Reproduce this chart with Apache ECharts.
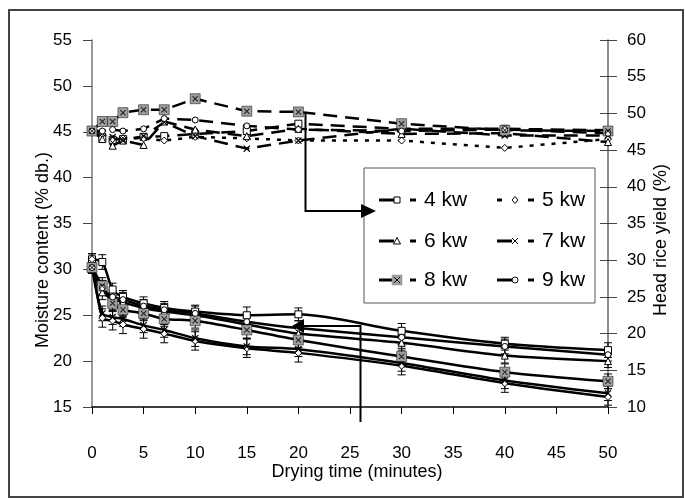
<!DOCTYPE html>
<html><head><meta charset="utf-8">
<script src="https://cdn.jsdelivr.net/npm/echarts@6/dist/echarts.min.js"></script>
<style>html,body{margin:0;padding:0;background:#fff}#c{width:685px;height:498px}</style>
</head><body><div id="c"></div>
<script>
// ---- data ----
const times = [0, 1, 2, 3, 5, 7, 10, 15, 20, 30, 40, 50];
const seriesNames = ['4 kw', '5 kw', '6 kw', '7 kw', '8 kw', '9 kw'];

// Moisture content (% db.) - left axis
const moisture4 = [31.1, 30.8, 27.8, 27.0, 26.3, 25.8, 25.4, 25.0, 25.1, 23.3, 21.9, 21.2];
const moisture5 = [31.1, 24.7, 24.4, 24.0, 23.5, 23.0, 22.2, 21.4, 20.9, 19.5, 17.6, 16.1];
const moisture6 = [30.2, 27.5, 26.8, 26.4, 25.8, 25.4, 25.0, 24.0, 23.0, 22.0, 20.6, 20.0];
const moisture7 = [30.2, 25.2, 24.8, 24.6, 23.9, 23.4, 22.5, 21.6, 21.3, 19.8, 17.9, 16.5];
const moisture8 = [30.2, 28.2, 26.3, 25.6, 25.2, 24.6, 24.4, 23.4, 22.3, 20.5, 18.8, 17.8];
const moisture9 = [30.2, 28.0, 27.0, 26.7, 26.0, 25.6, 25.2, 24.3, 23.6, 22.6, 21.6, 20.7];

// Error bar half-lengths (% db.)
const err4 = [0.6, 0.8, 0.7, 0.7, 0.7, 0.7, 0.7, 0.9, 0.7, 0.8, 0.7, 0.8];
const err5 = [0.6, 1.0, 1.0, 1.0, 1.0, 1.0, 1.0, 1.0, 1.0, 1.0, 1.0, 0.9];
const err6 = [0.6, 0.8, 0.7, 0.7, 0.7, 0.7, 0.7, 0.8, 0.8, 0.8, 0.8, 0.7];
const err7 = [0.6, 0.8, 0.8, 0.8, 0.8, 0.8, 0.9, 0.9, 0.8, 0.9, 0.9, 0.8];
const err8 = [0.6, 0.9, 0.8, 0.8, 0.8, 0.8, 0.8, 0.9, 0.8, 0.9, 0.9, 0.8];
const err9 = [0.6, 0.8, 0.7, 0.8, 0.7, 0.7, 0.8, 0.8, 0.8, 0.8, 0.8, 0.7];

// Head rice yield (%) - right axis
const yield4 = [47.6, 46.6, 46.4, 46.5, 46.8, 46.9, 47.2, 47.6, 48.6, 47.9, 47.9, 47.7];
const yield5 = [47.6, 47.2, 46.5, 46.6, 46.6, 46.3, 46.8, 46.6, 46.3, 46.3, 45.3, 46.5];
const yield6 = [47.6, 46.5, 45.6, 46.3, 45.7, 48.9, 47.8, 46.9, 47.9, 47.2, 47.3, 46.1];
const yield7 = [47.6, 47.3, 46.8, 46.3, 46.9, 48.8, 46.9, 45.2, 46.3, 47.9, 47.0, 47.0];
const yield8 = [47.6, 48.9, 48.9, 50.1, 50.5, 50.5, 52.0, 50.3, 50.2, 48.6, 47.7, 47.6];
const yield9 = [47.6, 47.6, 47.8, 47.6, 47.9, 49.3, 49.1, 48.3, 47.8, 47.6, 47.8, 47.3];

const xTickLabels = ['0','5','10','15','20','25','30','35','40','45','50'];

// ---- build ----
const moisture = [moisture4, moisture5, moisture6, moisture7, moisture8, moisture9];
const errs = [err4, err5, err6, err7, err8, err9];
const yields = [yield4, yield5, yield6, yield7, yield8, yield9];

const XPATH = 'path://M0,1.2L1.2,0L5,3.8L8.8,0L10,1.2L6.2,5L10,8.8L8.8,10L5,6.2L1.2,10L0,8.8L3.8,5Z';
const markerDefs = [
  {symbol: 'rect', size: 7, fill: '#fff', border: 1},
  {symbol: 'diamond', size: 7, fill: '#fff', border: 1},
  {symbol: 'triangle', size: 7, fill: '#fff', border: 1},
  {symbol: XPATH, size: 7, fill: '#000', border: 0},
  {symbol: 'rect', size: 10, fill: '#a0a0a0', border: 0.5},
  {symbol: 'circle', size: 6, fill: '#fff', border: 1}
];

const pairs = arr => times.map((t, i) => [t, arr[i]]);
const series = [];
const FONT = '"Liberation Sans", Arial, sans-serif';

seriesNames.forEach((name, k) => {
  const m = markerDefs[k];
  // error bars
  series.push({
    type: 'custom', yAxisIndex: 0, silent: true, z: 2,
    data: times.map((t, i) => [t, moisture[k][i], errs[k][i]]),
    renderItem: (params, api) => {
      const t = api.value(0), v = api.value(1), e = api.value(2);
      const top = api.coord([t, v + e]);
      const bot = api.coord([t, v - e]);
      const s = {stroke: '#000', lineWidth: 1};
      return {type: 'group', children: [
        {type: 'line', shape: {x1: top[0], y1: top[1], x2: bot[0], y2: bot[1]}, style: s},
        {type: 'line', shape: {x1: top[0] - 4, y1: top[1], x2: top[0] + 4, y2: top[1]}, style: s},
        {type: 'line', shape: {x1: bot[0] - 4, y1: bot[1], x2: bot[0] + 4, y2: bot[1]}, style: s}
      ]};
    }
  });
  // moisture (solid)
  series.push({
    name: name, type: 'line', yAxisIndex: 0, z: 3,
    data: pairs(moisture[k]), smooth: 0.25,
    symbol: m.symbol, symbolSize: m.size, showAllSymbol: true,
    lineStyle: {color: '#000', width: 2.5},
    itemStyle: {color: m.fill, borderColor: '#000', borderWidth: m.border}
  });
  // yield (dashed)
  series.push({
    name: name + ' yield', type: 'line', yAxisIndex: 1, z: 3,
    data: pairs(yields[k]),
    symbol: m.symbol, symbolSize: m.size, showAllSymbol: true,
    lineStyle: {color: '#000', width: 2.5, type: k === 1 ? [4, 7] : [14, 8]},
    itemStyle: {color: m.fill, borderColor: '#000', borderWidth: m.border}
  });
  if (k === 4) {
    // X overlay on gray squares
    [[0, moisture[k]], [1, yields[k]]].forEach(([ax, arr]) => {
      series.push({
        type: 'scatter', yAxisIndex: ax, z: 4, silent: true,
        data: pairs(arr), symbol: XPATH, symbolSize: 6,
        itemStyle: {color: '#000'}
      });
    });
  }
});

// ---- legend & annotations (graphic) ----
const graphic = [];
graphic.push({type: 'rect', shape: {x: 9, y: 10, width: 674, height: 487},
  style: {fill: 'none', stroke: '#444', lineWidth: 2}, z: 0});
graphic.push({type: 'rect', shape: {x: 364, y: 168, width: 231, height: 135},
  style: {fill: '#fff', stroke: '#555', lineWidth: 1}, z: 10});
const rowsY = [200, 241, 280];
const colsX = [379, 497];
seriesNames.forEach((name, k) => {
  const cx = colsX[k % 2], cy = rowsY[Math.floor(k / 2)];
  const lineStyle = {stroke: '#000', lineWidth: 3};
  if (k === 1) {
    graphic.push({type: 'line', shape: {x1: cx, y1: cy, x2: cx + 5, y2: cy}, style: lineStyle, z: 11});
  } else {
    graphic.push({type: 'line', shape: {x1: cx, y1: cy, x2: cx + 15, y2: cy}, style: lineStyle, z: 11});
  }
  graphic.push({type: 'line', shape: {x1: cx + 31, y1: cy, x2: cx + 37, y2: cy}, style: lineStyle, z: 11});
  const mx = cx + 18;
  const ms = {fill: '#fff', stroke: '#000', lineWidth: 1};
  if (k === 0) graphic.push({type: 'rect', shape: {x: mx - 3, y: cy - 3, width: 6, height: 6}, style: ms, z: 12});
  if (k === 1) graphic.push({type: 'polygon', shape: {points: [[mx, cy - 3.5], [mx + 3, cy], [mx, cy + 3.5], [mx - 3, cy]]}, style: ms, z: 12});
  if (k === 2) graphic.push({type: 'polygon', shape: {points: [[mx, cy - 3.5], [mx + 3.5, cy + 3], [mx - 3.5, cy + 3]]}, style: ms, z: 12});
  if (k === 3 || k === 4) {
    if (k === 4) graphic.push({type: 'rect', shape: {x: mx - 5, y: cy - 5, width: 10, height: 10}, style: {fill: '#a0a0a0', stroke: '#888', lineWidth: 0.5}, z: 12});
    graphic.push({type: 'line', shape: {x1: mx - 3, y1: cy - 3, x2: mx + 3, y2: cy + 3}, style: {stroke: '#000', lineWidth: 1}, z: 13});
    graphic.push({type: 'line', shape: {x1: mx + 3, y1: cy - 3, x2: mx - 3, y2: cy + 3}, style: {stroke: '#000', lineWidth: 1}, z: 13});
  }
  if (k === 5) graphic.push({type: 'circle', shape: {cx: mx, cy: cy, r: 3}, style: ms, z: 12});
  graphic.push({type: 'text', x: cx + 45, y: cy, z: 12,
    style: {text: name, font: '21px ' + FONT, fill: '#000', textAlign: 'left', textVerticalAlign: 'middle'}});
});
// arrow to legend
graphic.push({type: 'polyline', shape: {points: [[305.5, 112], [305.5, 211], [362, 211]]},
  style: {stroke: '#000', lineWidth: 2, fill: 'none'}, z: 14});
graphic.push({type: 'polygon', shape: {points: [[361, 204], [376, 211], [361, 218]]}, style: {fill: '#000'}, z: 14});
// arrow to moisture
graphic.push({type: 'polyline', shape: {points: [[360.5, 422], [360.5, 326], [302, 326]]},
  style: {stroke: '#000', lineWidth: 2, fill: 'none'}, z: 14});
graphic.push({type: 'polygon', shape: {points: [[304, 319], [292, 326], [304, 333]]}, style: {fill: '#000'}, z: 14});
// axis names
graphic.push({type: 'text', x: 43, y: 250, rotation: Math.PI / 2, z: 5,
  style: {text: 'Moisture content (% db.)', font: '18px ' + FONT, fill: '#000', textAlign: 'center', textVerticalAlign: 'middle'}});
graphic.push({type: 'text', x: 661, y: 240, rotation: Math.PI / 2, z: 5,
  style: {text: 'Head rice yield (%)', font: '18px ' + FONT, fill: '#000', textAlign: 'center', textVerticalAlign: 'middle'}});
graphic.push({type: 'text', x: 357, y: 472, z: 5,
  style: {text: 'Drying time (minutes)', font: '18px ' + FONT, fill: '#000', textAlign: 'center', textVerticalAlign: 'middle'}});

const chart = echarts.init(document.getElementById('c'), null, {renderer: 'canvas'});
chart.setOption({
  animation: false,
  backgroundColor: '#fff',
  grid: {left: 92, right: 77, top: 40, bottom: 91, containLabel: false},
  xAxis: {
    type: 'value', min: 0, max: 50, interval: 5,
    axisLine: {lineStyle: {color: '#000', width: 1.5}},
    axisTick: {length: 7, lineStyle: {color: '#000', width: 1}},
    axisLabel: {margin: 38, fontSize: 17, fontFamily: FONT, color: '#000',
      formatter: v => xTickLabels[Math.round(v / 5)]},
    splitLine: {show: false}
  },
  yAxis: [
    {type: 'value', position: 'left', min: 15, max: 55, interval: 5,
      axisLine: {show: true, lineStyle: {color: '#777', width: 1.5}},
      axisTick: {show: true, length: 9, lineStyle: {color: '#444', width: 1}},
      axisLabel: {margin: 20, fontSize: 17, fontFamily: FONT, color: '#000'},
      splitLine: {show: false}},
    {type: 'value', position: 'right', min: 10, max: 60, interval: 5,
      axisLine: {show: true, lineStyle: {color: '#666', width: 1.5}},
      axisTick: {show: true, length: 9, lineStyle: {color: '#444', width: 1}},
      axisLabel: {margin: 19, fontSize: 17, fontFamily: FONT, color: '#000'},
      splitLine: {show: false}},
    {type: 'value', position: 'right', min: 10, max: 60, interval: 5,
      axisLine: {show: false},
      axisTick: {show: true, inside: true, length: 8, lineStyle: {color: '#444', width: 1}},
      axisLabel: {show: false},
      splitLine: {show: false}}
  ],
  graphic: graphic,
  series: series
});
</script>
</body></html>
